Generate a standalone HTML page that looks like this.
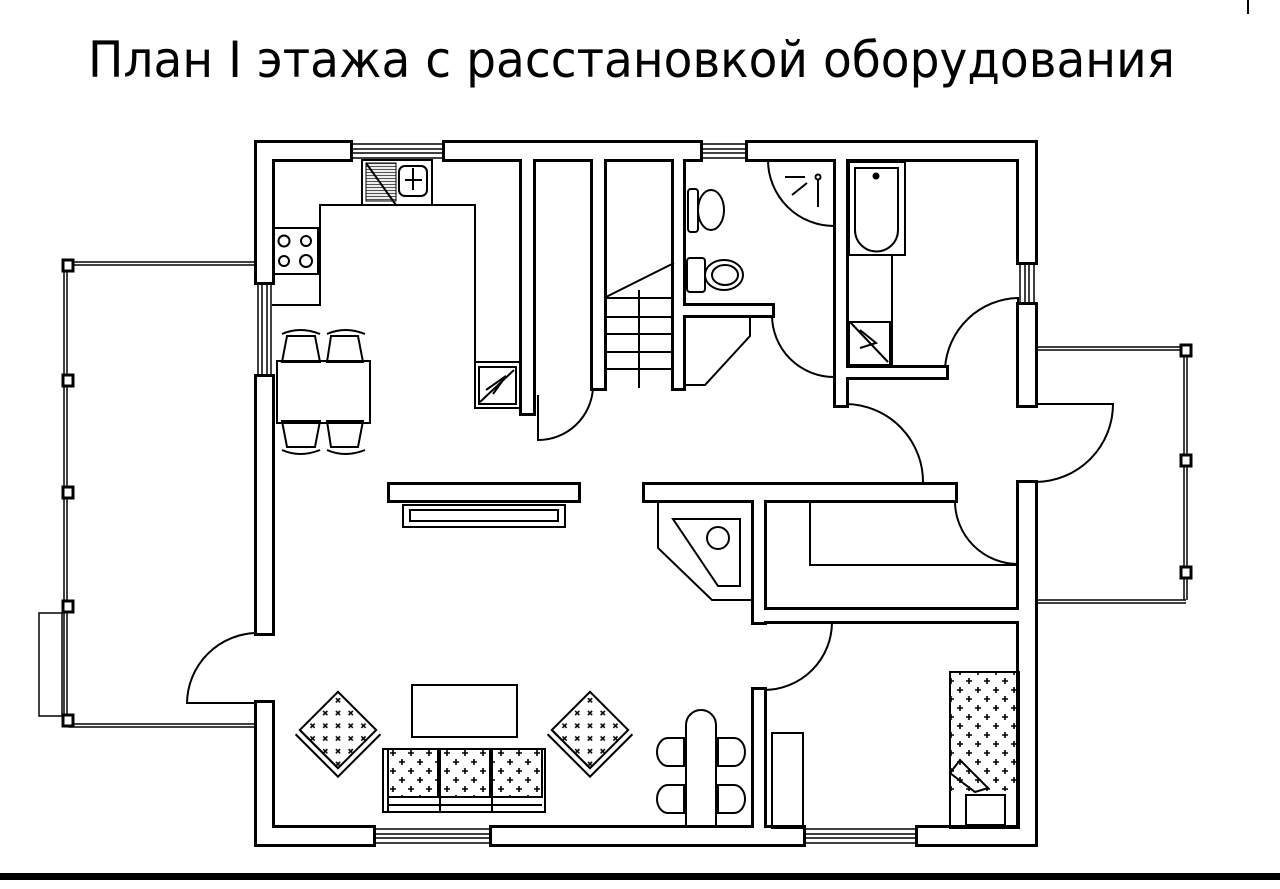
<!DOCTYPE html>
<html><head><meta charset="utf-8"><style>
html,body{margin:0;padding:0;background:#fff;}
svg{display:block;}
</style></head><body>
<svg width="1280" height="889" viewBox="0 0 1280 889" xmlns="http://www.w3.org/2000/svg">
<defs>
<pattern id="plus" x="0" y="0" width="18" height="18" patternUnits="userSpaceOnUse">
<path d="M6 3v6M3 6h6M15 12v6M12 15h6" stroke="#000" stroke-width="1.6"/>
</pattern>
<pattern id="hatch" width="4" height="3" patternUnits="userSpaceOnUse"><path d="M0 1.5h4" stroke="#555" stroke-width="1.2"/></pattern>
<g id="walls">
<rect x="257" y="143" width="93" height="16"/>
<rect x="445" y="143" width="255" height="16"/>
<rect x="748" y="143" width="287" height="16"/>
<rect x="257" y="143" width="15" height="139"/>
<rect x="257" y="377" width="15" height="256"/>
<rect x="257" y="703" width="15" height="141"/>
<rect x="257" y="828" width="116" height="16"/>
<rect x="492" y="828" width="311" height="16"/>
<rect x="918" y="828" width="117" height="16"/>
<rect x="1019" y="143" width="16" height="119"/>
<rect x="1019" y="305" width="16" height="100"/>
<rect x="1019" y="483" width="16" height="361"/>
<rect x="522" y="157" width="11" height="256"/>
<rect x="593" y="157" width="11" height="231"/>
<rect x="674" y="157" width="9" height="231"/>
<rect x="674" y="306" width="98" height="9"/>
<rect x="836" y="157" width="10" height="248"/>
<rect x="846" y="368" width="100" height="9"/>
<rect x="645" y="485" width="310" height="15"/>
<rect x="390" y="485" width="188" height="15"/>
<rect x="754" y="499" width="10" height="123"/>
<rect x="754" y="690" width="10" height="140"/>
<rect x="764" y="610" width="256" height="11"/>
</g>
</defs>
<text x="88" y="77" font-family="'DejaVu Sans','Liberation Sans',sans-serif" font-size="50" textLength="1087" lengthAdjust="spacingAndGlyphs" fill="#000">План I этажа с расстановкой оборудования</text>
<line x1="1248" y1="0" x2="1248" y2="14" stroke="#000" stroke-width="2"/>

<use href="#walls" fill="#000" stroke="#000" stroke-width="6"/>
<use href="#walls" fill="#fff"/>

<g fill="none" stroke="#000" stroke-width="1.5">
<path d="M350 144H445M350 149H445M350 153H445M350 158H445"/>
<path d="M700 144H748M700 149H748M700 153H748M700 158H748"/>
<path d="M258 282V377M262 282V377M267 282V377M271 282V377"/>
<path d="M373 829H492M373 834H492M373 838H492M373 843H492"/>
<path d="M803 829H918M803 834H918M803 838H918M803 843H918"/>
<path d="M1020 262V305M1025 262V305M1029 262V305M1034 262V305"/>
<path d="M68 262H257M68 265H257M68 724H257M68 727H257"/>
<path d="M64 266V720M67 266V720"/>
<rect x="39" y="613" width="23" height="103"/>
<path d="M1035 347H1186M1035 350H1186M1035 600H1186M1035 603H1186"/>
<path d="M1184 356V600M1187 356V600"/>
</g>
<g fill="#fff" stroke="#000" stroke-width="3">
<rect x="63" y="260" width="10" height="11"/><rect x="63" y="375" width="10" height="11"/>
<rect x="63" y="487" width="10" height="11"/><rect x="63" y="601" width="10" height="11"/>
<rect x="63" y="715" width="10" height="11"/>
<rect x="1181" y="345" width="10" height="11"/><rect x="1181" y="455" width="10" height="11"/>
<rect x="1181" y="567" width="10" height="11"/>
</g>

<g fill="none" stroke="#000" stroke-width="2">
<path d="M257 633A71 71 0 0 0 187 703H257"/>
<path d="M593 388A55 55 0 0 1 538 440V395"/>
<path d="M772 315A62 62 0 0 0 834 377V315"/>
<path d="M945 368A75 75 0 0 1 1018 298V368"/>
<path d="M846 404A78 78 0 0 1 923 484H846"/>
<path d="M1035 404H1113A78 78 0 0 1 1036 482"/>
<path d="M955 501A63 63 0 0 0 1018 564V490"/>
<path d="M764 690A68 68 0 0 0 832 622H764"/>

<path d="M272 305H320V205H475V408H522"/>
<rect x="475" y="362" width="45" height="46"/>
<rect x="479" y="367" width="37" height="37"/>
<path d="M480 402L514 370M486 390L506 376L493 394"/>
<rect x="274" y="228" width="44" height="46"/>
<circle cx="284" cy="241" r="5.5"/><circle cx="306" cy="241" r="5"/><circle cx="284" cy="261" r="5"/><circle cx="306" cy="261" r="6"/>
<rect x="362" y="160" width="70" height="45"/>
<rect x="366" y="163" width="30" height="38" fill="url(#hatch)" stroke-width="1"/>
<rect x="399" y="166" width="28" height="30" rx="6"/>
<path d="M366 163L396 205M413 168V190M405 180H422"/>

<rect x="277" y="361" width="93" height="62"/>
<path d="M282 362L287 336H315L320 362ZM327 362L331 336H358L363 362Z"/>
<path d="M282 421L287 447H315L320 421ZM327 421L331 447H358L363 421Z"/>
<path d="M282 334Q300 326 320 334M327 334Q345 326 365 334M282 450Q300 458 320 450M327 450Q345 458 365 450"/>

<path d="M604 298L674 263M604 298H674M604 317H674M604 334H674M604 352H674M604 369H674M639 290V388"/>
<path d="M683 316H750V336L705 385H683"/>

<rect x="688" y="189" width="10" height="43" rx="3"/>
<ellipse cx="711" cy="210" rx="13" ry="20"/>
<rect x="687" y="258" width="18" height="34" rx="3"/>
<ellipse cx="724" cy="275" rx="19" ry="15"/><ellipse cx="725" cy="275" rx="13" ry="10"/>

<path d="M768 160A66 66 0 0 0 834 226V160"/>
<path d="M785 177H805M792 195L807 183M818 180V207"/>
<circle cx="818" cy="177" r="2.5"/>

<rect x="849" y="162" width="56" height="93"/>
<path d="M855 168H898V230A21 21 0 0 1 855 230Z"/>
<circle cx="876" cy="176" r="2.5" fill="#000"/>
<path d="M892 255V368"/>
<rect x="849" y="322" width="41" height="43"/>
<path d="M850 322L888 362M860 330L876 343L860 348"/>

<rect x="403" y="505" width="162" height="22"/>
<rect x="410" y="510" width="148" height="11"/>
<path d="M658 500V548L712 600H753"/>
<path d="M673 519H740V586H718Z"/>
<circle cx="718" cy="538" r="11"/>
<path d="M810 500V565H1018"/>

<rect x="412" y="685" width="105" height="52"/>
<rect x="383" y="749" width="162" height="63" fill="#fff"/>
<rect x="388" y="749" width="50" height="48" fill="url(#plus)"/>
<rect x="440" y="749" width="50" height="48" fill="url(#plus)"/>
<rect x="492" y="749" width="50" height="48" fill="url(#plus)"/>
<path d="M388 749V812M440 749V812M492 749V812M388 797H542M388 805H542"/>
<g transform="translate(338 730) rotate(45)">
<rect x="-27" y="-27" width="54" height="54" fill="url(#plus)"/>
<path d="M-27 27H27M-27 33H33V-27"/>
</g>
<g transform="translate(590 730) rotate(45)">
<rect x="-27" y="-27" width="54" height="54" fill="url(#plus)"/>
<path d="M-27 27H27M-27 33H33V-27"/>
</g>
<path d="M686 828V725A15 15 0 0 1 716 725V828"/>
<path d="M684 738H668A11 14 0 0 0 668 766H684ZM718 738H734A11 14 0 0 1 734 766H718ZM684 785H668A11 14 0 0 0 668 813H684ZM718 785H734A11 14 0 0 1 734 813H718Z"/>

<rect x="772" y="733" width="31" height="95"/>
<rect x="950" y="672" width="69" height="156"/>
<rect x="951" y="673" width="67" height="118" fill="url(#plus)" stroke="none"/>
<path d="M950 773L960 760L988 788L975 792Z"/>
<rect x="966" y="795" width="39" height="30"/>
</g>

<rect x="0" y="873" width="1280" height="7" fill="#000"/>
</svg>
</body></html>
